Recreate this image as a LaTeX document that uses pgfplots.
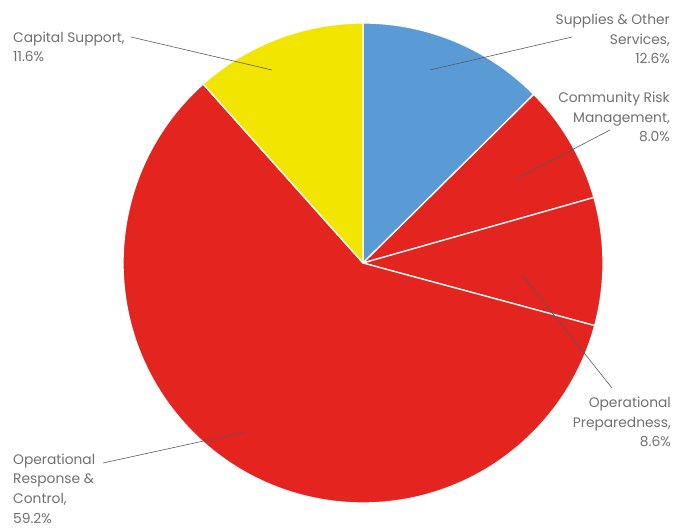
\documentclass[border=0pt]{standalone}
\usepackage{pgfplots}
\usepackage{pgfplotstable}
\usepackage{fontspec}
\pgfplotsset{compat=1.18}
\setmainfont{Poppins}

\definecolor{supblue}{HTML}{5B9BD5}
\definecolor{opred}{HTML}{E3241F}
\definecolor{capyel}{HTML}{F2E600}
\definecolor{labgray}{HTML}{707070}
\definecolor{leader}{HTML}{5A5A5A}

% shares in percent, clockwise from 12 o'clock
\pgfplotstableread{
pct
12.6
8.0
8.6
59.2
11.6
}\piedata

\pgfplotstablegetelem{0}{pct}\of\piedata \let\pA\pgfplotsretval
\pgfplotstablegetelem{1}{pct}\of\piedata \let\pB\pgfplotsretval
\pgfplotstablegetelem{2}{pct}\of\piedata \let\pC\pgfplotsretval
\pgfplotstablegetelem{3}{pct}\of\piedata \let\pD\pgfplotsretval
\pgfplotstablegetelem{4}{pct}\of\piedata \let\pE\pgfplotsretval

\pgfmathsetmacro\aA{90}
\pgfmathsetmacro\aB{\aA-3.6*\pA}
\pgfmathsetmacro\aC{\aB-3.6*\pB}
\pgfmathsetmacro\aD{\aC-3.6*\pC}
\pgfmathsetmacro\aE{\aD-3.6*\pD}
\pgfmathsetmacro\aF{\aE-3.6*\pE}

\begin{document}
\begin{tikzpicture}
\begin{axis}[
    x=1pt, y=1pt,
    xmin=0, xmax=680, ymin=0, ymax=530,
    hide axis, clip=false,
]
\path (axis cs:0,0) rectangle (axis cs:680,530);
\def\cx{363}\def\cy{267}\def\r{240pt}
\tikzset{slice/.style={draw=white, line width=1.3pt, line join=round}}
\fill[slice, fill=supblue] (axis cs:\cx,\cy) -- ++(\aB:\r) arc[start angle=\aB, end angle=\aA, radius=\r] -- cycle;
\fill[slice, fill=opred] (axis cs:\cx,\cy) -- ++(\aC:\r) arc[start angle=\aC, end angle=\aB, radius=\r] -- cycle;
\fill[slice, fill=opred] (axis cs:\cx,\cy) -- ++(\aD:\r) arc[start angle=\aD, end angle=\aC, radius=\r] -- cycle;
\fill[slice, fill=opred] (axis cs:\cx,\cy) -- ++(\aE:\r) arc[start angle=\aE, end angle=\aD, radius=\r] -- cycle;
\fill[slice, fill=capyel] (axis cs:\cx,\cy) -- ++(\aF:\r) arc[start angle=\aF, end angle=\aE, radius=\r] -- cycle;

% leader lines
\tikzset{lead/.style={leader, line width=0.6pt}}
\draw[lead] (axis cs:131,493) -- (axis cs:272,460);
\draw[lead] (axis cs:572,493) -- (axis cs:430,460);
\draw[lead] (axis cs:610,400) -- (axis cs:518,352);
\draw[lead] (axis cs:522,255) -- (axis cs:612,142);
\draw[lead] (axis cs:103,67) -- (axis cs:245,98);

% labels (anchored at the baseline of the last line)
\tikzset{lab/.style={inner sep=0pt, text=labgray, font=\fontsize{13.8}{19.5}\selectfont}}
\node[lab, anchor=base west, align=left] at (axis cs:13,468) {Capital Support,\\11.6\%};
\node[lab, anchor=base east, align=right] at (axis cs:670,466) {Supplies \& Other\\Services,\\12.6\%};
\node[lab, anchor=base east, align=right] at (axis cs:670,388) {Community Risk\\Management,\\8.0\%};
\node[lab, anchor=base east, align=right] at (axis cs:671,83) {Operational\\Preparedness,\\8.6\%};
\node[lab, anchor=base west, align=left] at (axis cs:13,7) {Operational\\Response \&\\Control,\\59.2\%};
\end{axis}
\end{tikzpicture}
\end{document}
